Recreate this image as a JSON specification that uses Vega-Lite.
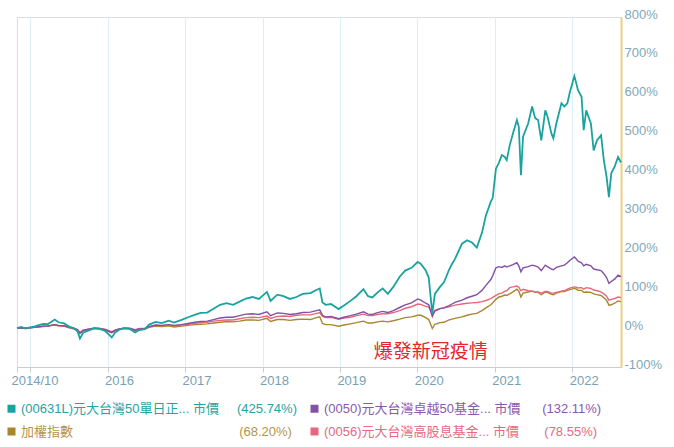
{
  "$schema": "https://vega.github.io/schema/vega-lite/v6.json",
  "width": 604,
  "height": 350,
  "autosize": {"type": "none"},
  "padding": {"left": 17, "top": 17, "right": 53, "bottom": 80},
  "background": "white",
  "config": {"view": {"stroke": "#dddddd"}, "font": "Liberation Sans", "axis": {"labelOverlap": false, "labelSeparation": 0}},
  "resolve": {"axis": {"x": "independent", "y": "independent"}},
  "layer": [
    {
      "data": {"values": [
        {"d":"2014-10-31","T":0,"P":0,"B":0,"R":0},
        {"d":"2014-11-20","T":3,"P":1,"B":1,"R":1},
        {"d":"2014-12-10","T":-1,"P":0,"B":0,"R":0},
        {"d":"2014-12-31","T":2,"P":1,"B":1,"R":1},
        {"d":"2015-01-20","T":4,"P":2,"B":2,"R":2},
        {"d":"2015-02-10","T":8,"P":4,"B":3,"R":3},
        {"d":"2015-03-05","T":11,"P":5,"B":5,"R":4},
        {"d":"2015-03-25","T":10,"P":5,"B":5,"R":5},
        {"d":"2015-04-27","T":22,"P":9,"B":9,"R":8},
        {"d":"2015-05-15","T":15,"P":7,"B":6,"R":6},
        {"d":"2015-06-10","T":12,"P":6,"B":5,"R":5},
        {"d":"2015-07-08","T":3,"P":2,"B":0,"R":1},
        {"d":"2015-07-25","T":0,"P":0,"B":-2,"R":-1},
        {"d":"2015-08-12","T":-8,"P":-4,"B":-5,"R":-4},
        {"d":"2015-08-24","T":-27,"P":-13,"B":-14,"R":-11},
        {"d":"2015-09-08","T":-12,"P":-6,"B":-7,"R":-5},
        {"d":"2015-10-05","T":-6,"P":-3,"B":-4,"R":-2},
        {"d":"2015-10-30","T":0,"P":0,"B":-1,"R":0},
        {"d":"2015-11-25","T":-2,"P":-1,"B":-2,"R":-1},
        {"d":"2015-12-20","T":-7,"P":-4,"B":-5,"R":-3},
        {"d":"2016-01-21","T":-24,"P":-11,"B":-12,"R":-9},
        {"d":"2016-02-05","T":-12,"P":-6,"B":-7,"R":-5},
        {"d":"2016-02-25","T":-4,"P":-2,"B":-3,"R":-2},
        {"d":"2016-03-20","T":0,"P":0,"B":-1,"R":0},
        {"d":"2016-04-15","T":-2,"P":-1,"B":-2,"R":0},
        {"d":"2016-05-10","T":-11,"P":-5,"B":-6,"R":-4},
        {"d":"2016-05-30","T":-5,"P":-2,"B":-3,"R":-1},
        {"d":"2016-06-24","T":-3,"P":-2,"B":-3,"R":0},
        {"d":"2016-07-15","T":9,"P":4,"B":2,"R":4},
        {"d":"2016-08-15","T":16,"P":8,"B":5,"R":7},
        {"d":"2016-09-13","T":13,"P":7,"B":4,"R":6},
        {"d":"2016-10-15","T":19,"P":9,"B":6,"R":8},
        {"d":"2016-11-10","T":14,"P":7,"B":3,"R":6},
        {"d":"2016-12-15","T":21,"P":9,"B":5,"R":8},
        {"d":"2017-01-15","T":28,"P":12,"B":7,"R":10},
        {"d":"2017-02-15","T":34,"P":15,"B":9,"R":12},
        {"d":"2017-03-15","T":39,"P":17,"B":10,"R":14},
        {"d":"2017-04-15","T":40,"P":18,"B":11,"R":15},
        {"d":"2017-05-15","T":50,"P":22,"B":13,"R":18},
        {"d":"2017-06-15","T":60,"P":26,"B":15,"R":20},
        {"d":"2017-07-15","T":64,"P":28,"B":17,"R":21},
        {"d":"2017-08-15","T":60,"P":28,"B":16,"R":21},
        {"d":"2017-09-15","T":68,"P":32,"B":18,"R":24},
        {"d":"2017-10-15","T":76,"P":36,"B":21,"R":27},
        {"d":"2017-11-15","T":80,"P":37,"B":21,"R":28},
        {"d":"2017-12-15","T":75,"P":35,"B":20,"R":27},
        {"d":"2018-01-22","T":93,"P":42,"B":25,"R":31},
        {"d":"2018-02-08","T":70,"P":32,"B":17,"R":25},
        {"d":"2018-03-12","T":86,"P":39,"B":22,"R":30},
        {"d":"2018-04-10","T":82,"P":38,"B":22,"R":31},
        {"d":"2018-05-10","T":75,"P":35,"B":20,"R":30},
        {"d":"2018-06-10","T":80,"P":37,"B":22,"R":33},
        {"d":"2018-07-10","T":88,"P":40,"B":23,"R":34},
        {"d":"2018-08-15","T":90,"P":41,"B":22,"R":34},
        {"d":"2018-09-12","T":98,"P":45,"B":27,"R":38},
        {"d":"2018-09-28","T":102,"P":47,"B":29,"R":40},
        {"d":"2018-10-11","T":66,"P":33,"B":12,"R":30},
        {"d":"2018-10-26","T":60,"P":29,"B":9,"R":27},
        {"d":"2018-11-20","T":62,"P":30,"B":9,"R":28},
        {"d":"2018-12-26","T":49,"P":24,"B":5,"R":23},
        {"d":"2019-01-20","T":58,"P":28,"B":8,"R":26},
        {"d":"2019-02-20","T":70,"P":32,"B":11,"R":28},
        {"d":"2019-03-20","T":82,"P":36,"B":14,"R":32},
        {"d":"2019-04-22","T":100,"P":42,"B":18,"R":36},
        {"d":"2019-05-14","T":82,"P":36,"B":13,"R":32},
        {"d":"2019-06-03","T":79,"P":35,"B":13,"R":32},
        {"d":"2019-06-28","T":92,"P":40,"B":16,"R":35},
        {"d":"2019-07-22","T":102,"P":43,"B":18,"R":37},
        {"d":"2019-08-15","T":88,"P":40,"B":16,"R":37},
        {"d":"2019-09-10","T":106,"P":45,"B":19,"R":40},
        {"d":"2019-10-10","T":132,"P":53,"B":23,"R":45},
        {"d":"2019-11-05","T":148,"P":60,"B":27,"R":51},
        {"d":"2019-12-05","T":155,"P":65,"B":29,"R":55},
        {"d":"2020-01-03","T":170,"P":75,"B":33,"R":62},
        {"d":"2020-01-18","T":165,"P":72,"B":33,"R":61},
        {"d":"2020-02-10","T":148,"P":64,"B":27,"R":56},
        {"d":"2020-02-24","T":130,"P":60,"B":22,"R":54},
        {"d":"2020-03-12","T":37,"P":30,"B":-1,"R":36},
        {"d":"2020-03-24","T":88,"P":44,"B":10,"R":46},
        {"d":"2020-04-17","T":106,"P":50,"B":14,"R":50},
        {"d":"2020-05-06","T":118,"P":52,"B":15,"R":52},
        {"d":"2020-05-30","T":150,"P":58,"B":21,"R":55},
        {"d":"2020-06-13","T":165,"P":62,"B":23,"R":57},
        {"d":"2020-06-27","T":178,"P":66,"B":25,"R":59},
        {"d":"2020-07-30","T":217,"P":72,"B":29,"R":62},
        {"d":"2020-08-23","T":226,"P":78,"B":33,"R":64},
        {"d":"2020-09-15","T":220,"P":82,"B":36,"R":65},
        {"d":"2020-10-08","T":207,"P":86,"B":38,"R":66},
        {"d":"2020-11-01","T":245,"P":97,"B":45,"R":68},
        {"d":"2020-11-20","T":290,"P":110,"B":52,"R":71},
        {"d":"2020-12-13","T":325,"P":125,"B":60,"R":76},
        {"d":"2020-12-22","T":335,"P":135,"B":65,"R":79},
        {"d":"2021-01-06","T":410,"P":155,"B":74,"R":84},
        {"d":"2021-01-20","T":425,"P":158,"B":80,"R":88},
        {"d":"2021-02-03","T":445,"P":156,"B":82,"R":90},
        {"d":"2021-02-17","T":440,"P":160,"B":85,"R":95},
        {"d":"2021-02-26","T":432,"P":157,"B":84,"R":96},
        {"d":"2021-03-12","T":470,"P":160,"B":88,"R":104},
        {"d":"2021-03-27","T":500,"P":163,"B":93,"R":106},
        {"d":"2021-04-15","T":535,"P":168,"B":100,"R":108},
        {"d":"2021-04-24","T":517,"P":160,"B":95,"R":105},
        {"d":"2021-05-04","T":393,"P":145,"B":80,"R":96},
        {"d":"2021-05-14","T":492,"P":155,"B":90,"R":100},
        {"d":"2021-06-07","T":526,"P":158,"B":93,"R":96},
        {"d":"2021-06-26","T":570,"P":162,"B":95,"R":95},
        {"d":"2021-07-10","T":540,"P":160,"B":93,"R":93},
        {"d":"2021-07-24","T":535,"P":157,"B":92,"R":93},
        {"d":"2021-08-08","T":483,"P":148,"B":86,"R":90},
        {"d":"2021-08-27","T":560,"P":162,"B":93,"R":94},
        {"d":"2021-09-06","T":545,"P":158,"B":92,"R":94},
        {"d":"2021-09-25","T":500,"P":152,"B":87,"R":90},
        {"d":"2021-10-04","T":488,"P":150,"B":86,"R":90},
        {"d":"2021-10-18","T":526,"P":156,"B":90,"R":92},
        {"d":"2021-11-11","T":578,"P":160,"B":94,"R":95},
        {"d":"2021-11-25","T":570,"P":162,"B":94,"R":96},
        {"d":"2021-12-09","T":578,"P":168,"B":97,"R":100},
        {"d":"2021-12-20","T":605,"P":174,"B":99,"R":103},
        {"d":"2022-01-11","T":648,"P":183,"B":102,"R":106},
        {"d":"2022-01-20","T":630,"P":178,"B":100,"R":105},
        {"d":"2022-01-28","T":612,"P":172,"B":97,"R":103},
        {"d":"2022-02-14","T":595,"P":168,"B":97,"R":104},
        {"d":"2022-02-24","T":509,"P":160,"B":92,"R":100},
        {"d":"2022-03-08","T":560,"P":164,"B":93,"R":104},
        {"d":"2022-03-30","T":526,"P":160,"B":92,"R":102},
        {"d":"2022-04-12","T":457,"P":152,"B":88,"R":98},
        {"d":"2022-04-28","T":483,"P":150,"B":86,"R":96},
        {"d":"2022-05-17","T":496,"P":148,"B":84,"R":93},
        {"d":"2022-05-30","T":432,"P":140,"B":78,"R":88},
        {"d":"2022-06-12","T":389,"P":130,"B":72,"R":82},
        {"d":"2022-06-23","T":337,"P":115,"B":59,"R":72},
        {"d":"2022-07-04","T":398,"P":120,"B":60,"R":74},
        {"d":"2022-07-20","T":415,"P":126,"B":64,"R":76},
        {"d":"2022-08-05","T":440,"P":136,"B":70,"R":80},
        {"d":"2022-08-19","T":425.74,"P":132.11,"B":68.2,"R":78.55}
      ]},
      "transform": [{"fold": ["B", "R", "P", "T"], "as": ["s", "v"]}],
      "mark": {"type": "line", "interpolate": "linear"},
      "encoding": {
        "x": {
          "field": "d", "type": "temporal",
          "scale": {"domain": [{"year": 2014, "month": 10, "date": 31, "utc": true}, {"year": 2022, "month": 8, "date": 19, "utc": true}]},
          "axis": {
            "title": null,
            "values": [
              {"year": 2014, "month": 10, "date": 31, "utc": true},
              {"year": 2015, "month": 1, "date": 1, "utc": true},
              {"year": 2016, "month": 1, "date": 1, "utc": true},
              {"year": 2017, "month": 1, "date": 1, "utc": true},
              {"year": 2018, "month": 1, "date": 1, "utc": true},
              {"year": 2019, "month": 1, "date": 1, "utc": true},
              {"year": 2020, "month": 1, "date": 1, "utc": true},
              {"year": 2021, "month": 1, "date": 1, "utc": true},
              {"year": 2022, "month": 1, "date": 1, "utc": true}
            ],
            "labelExpr": "utcyear(datum.value) == 2014 ? '2014/10' : (utcyear(datum.value) == 2015 ? '' : '' + utcyear(datum.value))",
            "grid": true,
            "gridColor": {"condition": {"test": "utcyear(datum.value) == 2014", "value": "#dddddd"}, "value": "#dceff5"},
            "domainColor": "#cccccc",
            "tickColor": "#cccccc",
            "tickSize": 5,
            "labelColor": "#7a9fb3",
            "labelFontSize": 13,
            "labelAlign": "left",
            "labelOffset": {"condition": {"test": "utcyear(datum.value) == 2014", "value": -6}, "value": -3},
            "labelPadding": 2,
            "labelFlush": false,
            "labelOverlap": false
          }
        },
        "y": {
          "field": "v", "type": "quantitative",
          "scale": {"domain": [-100, 800], "nice": false, "zero": false},
          "axis": {
            "title": null,
            "orient": "right",
            "values": [-100, 0, 100, 200, 300, 400, 500, 600, 700, 800],
            "labelExpr": "datum.value + '%'",
            "labelOverlap": false,
            "labelSeparation": 0,
            "labelBound": false,
            "grid": false,
            "ticks": false,
            "domainColor": "#ecd07c",
            "domainWidth": 2,
            "labelColor": "#7fa8b8",
            "labelFontSize": 13,
            "labelPadding": 3,
            "labelOffset": -3
          }
        },
        "color": {
          "field": "s", "type": "nominal",
          "scale": {"domain": ["T", "P", "B", "R"], "range": ["#1aa39e", "#8350a5", "#a9852f", "#e9677c"]},
          "legend": {
            "title": null,
            "orient": "none",
            "legendX": -12,
            "legendY": 385,
            "direction": "horizontal",
            "columns": 2,
            "columnPadding": 4,
            "rowPadding": -4,
            "symbolType": "square",
            "symbolSize": 4,
            "symbolStrokeWidth": 6,
            "symbolOpacity": 1,
            "labelOffset": 3,
            "labelLimit": 400,
            "labelFont": "Liberation Sans, Noto Sans CJK TC",
            "labelFontSize": 13,
            "labelColor": {"expr": "datum.value == 'T' ? '#27a3a3' : (datum.value == 'P' ? '#8a58aa' : (datum.value == 'B' ? '#b4944a' : '#e56a82'))"},
            "labelExpr": "datum.value == 'T' ? '(00631L)元大台灣50單日正... 市價\u00a0\u00a0\u00a0\u00a0\u00a0(425.74%)' : (datum.value == 'P' ? '(0050)元大台灣卓越50基金... 市價\u00a0\u00a0\u00a0\u00a0\u00a0\u00a0(132.11%)' : (datum.value == 'B' ? '加權指數\u00a0\u00a0\u00a0\u00a0\u00a0\u00a0\u00a0\u00a0\u00a0\u00a0\u00a0\u00a0\u00a0\u00a0\u00a0\u00a0\u00a0\u00a0\u00a0\u00a0\u00a0\u00a0\u00a0\u00a0\u00a0\u00a0\u00a0\u00a0\u00a0\u00a0\u00a0\u00a0\u00a0\u00a0\u00a0\u00a0\u00a0\u00a0\u00a0\u00a0\u00a0\u00a0\u00a0\u00a0\u00a0\u00a0(68.20%)' : '(0056)元大台灣高股息基金... 市價\u00a0\u00a0\u00a0\u00a0\u00a0\u00a0\u00a0(78.55%)'))"
          }
        },
        "size": {"condition": {"test": "datum.s == 'T'", "value": 1.8}, "value": 1.4}
      }
    },
    {
      "data": {"values": [{"d": "2020-03-05", "v": -62, "t": "爆發新冠疫情"}]},
      "mark": {"type": "text", "color": "#e3262b", "fontSize": 19, "font": "Noto Sans CJK TC", "baseline": "middle", "align": "center"},
      "encoding": {
        "x": {"field": "d", "type": "temporal", "axis": null},
        "y": {"field": "v", "type": "quantitative", "axis": null},
        "text": {"field": "t"}
      }
    }
  ]
}
